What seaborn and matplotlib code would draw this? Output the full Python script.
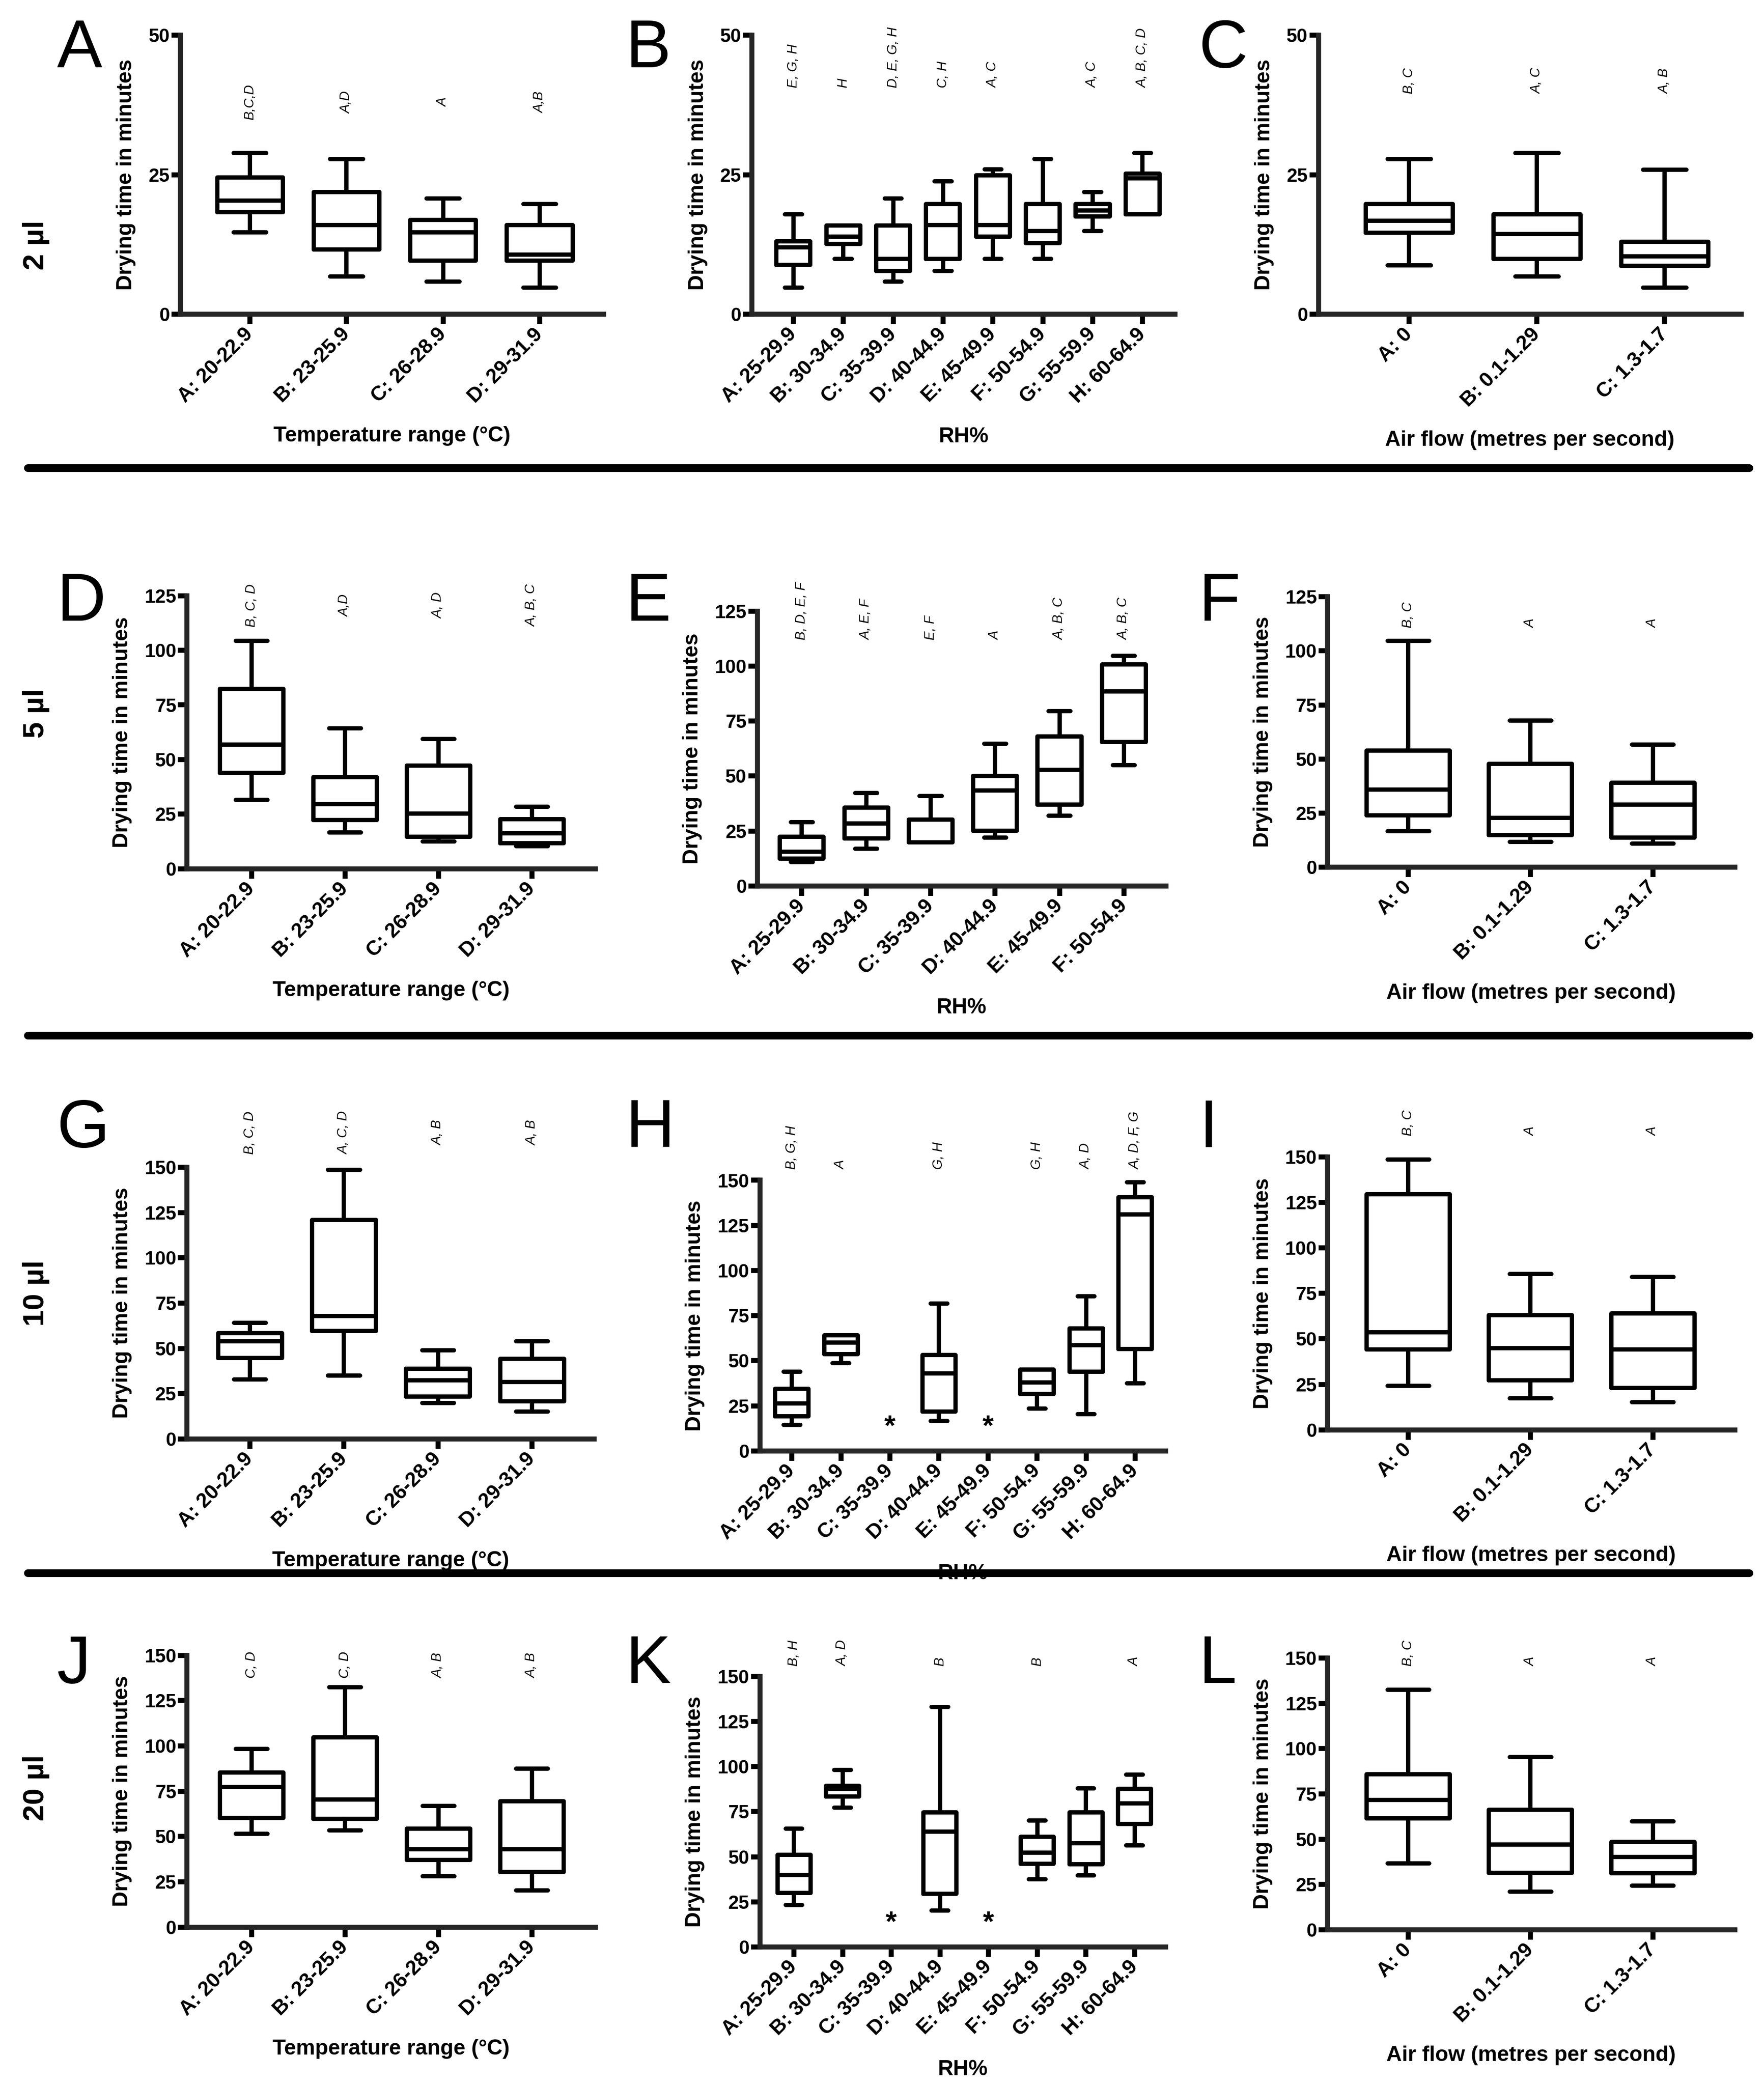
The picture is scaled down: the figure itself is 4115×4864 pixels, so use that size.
import matplotlib
matplotlib.use("Agg")
import matplotlib.pyplot as plt
from matplotlib.lines import Line2D
import pandas as pd
import seaborn as sns

# category labels
temp_cats = ["A: 20-22.9", "B: 23-25.9", "C: 26-28.9", "D: 29-31.9"]
rh_cats = ["A: 25-29.9", "B: 30-34.9", "C: 35-39.9", "D: 40-44.9",
           "E: 45-49.9", "F: 50-54.9", "G: 55-59.9", "H: 60-64.9"]
rh_cats_5ul = rh_cats[:6]
air_cats = ["A: 0", "B: 0.1-1.29", "C: 1.3-1.7"]

# box summaries: [min, Q1, median, Q3, max] (minutes)
# None = no data for that range (marked with *)
temp_2ul = [[14.7, 18.3, 20.4, 24.5, 28.9], [6.8, 11.6, 16.0, 21.9, 27.8],
            [5.9, 9.6, 14.7, 16.9, 20.8], [4.8, 9.6, 10.7, 16.0, 19.8]]
rh_2ul = [[4.8, 8.9, 12.0, 13.1, 17.9], [9.9, 12.6, 13.9, 15.9, 15.9],
          [5.9, 7.8, 9.9, 15.9, 20.8], [7.8, 9.9, 16.0, 19.8, 23.8],
          [9.9, 13.9, 16.0, 24.9, 26.0], [9.9, 12.8, 14.9, 19.8, 27.8],
          [14.9, 17.5, 18.6, 19.8, 21.9], [17.9, 17.9, 24.4, 25.2, 28.9]]
air_2ul = [[8.8, 14.6, 16.8, 19.8, 27.8], [6.8, 9.9, 14.4, 17.9, 28.9],
           [4.8, 8.7, 10.4, 13.0, 25.9]]

temp_5ul = [[31.5, 44.0, 56.8, 82.4, 104.3], [16.6, 22.4, 29.6, 41.9, 64.3],
            [12.6, 14.7, 25.3, 47.3, 59.4], [10.4, 11.8, 16.3, 22.7, 28.5]]
rh_5ul = [[10.8, 12.5, 15.5, 22.3, 29.0], [17.0, 21.6, 28.4, 35.6, 42.3],
          [19.8, 19.8, 19.8, 30.2, 41.0], [22.0, 25.2, 43.5, 50.1, 64.8],
          [32.0, 37.0, 52.8, 68.0, 79.6], [55.0, 65.5, 88.6, 100.8, 104.7]]
air_5ul = [[16.8, 24.0, 36.0, 54.0, 104.7], [11.7, 14.9, 22.9, 47.8, 67.8],
           [10.9, 13.8, 29.0, 39.1, 56.8]]

temp_10ul = [[33.0, 44.7, 54.0, 58.4, 64.0], [35.0, 59.7, 67.8, 120.8, 148.6],
             [20.0, 23.5, 32.5, 38.9, 49.0], [15.2, 20.8, 31.5, 44.3, 54.0]]
rh_10ul = [[14.5, 19.1, 26.4, 34.4, 44.0], [48.7, 53.6, 60.0, 64.0, 64.0],
           None, [16.7, 21.8, 43.0, 53.3, 81.8], None,
           [23.6, 31.5, 38.0, 45.0, 45.0], [20.5, 44.0, 58.7, 68.0, 85.8],
           [37.6, 56.4, 131.0, 140.5, 149.0]]
air_10ul = [[24.2, 44.1, 53.6, 129.4, 148.4], [17.3, 27.3, 45.0, 63.1, 85.6],
            [15.2, 23.0, 44.1, 64.0, 83.9]]

temp_20ul = [[51.4, 60.2, 77.4, 85.3, 98.4], [53.5, 59.8, 70.4, 104.7, 132.5],
             [28.2, 37.0, 43.0, 54.4, 66.8], [20.4, 30.4, 43.0, 69.5, 87.4]]
rh_20ul = [[23.2, 30.0, 40.0, 51.0, 65.5], [77.1, 83.3, 87.7, 89.4, 98.2],
           None, [20.2, 29.4, 63.9, 74.5, 133.0], None,
           [37.5, 46.0, 52.3, 61.0, 70.0], [39.6, 45.8, 57.6, 74.5, 88.0],
           [56.3, 68.1, 79.6, 87.7, 95.6]]
air_20ul = [[36.8, 61.6, 71.8, 85.8, 132.5], [21.0, 31.5, 47.0, 66.3, 95.4],
            [24.3, 31.3, 40.3, 48.5, 59.9]]

# significance letters above the boxes
sig_temp_2ul = ["B,C,D", "A,D", "A", "A,B"]
sig_rh_2ul = ["E, G, H", "H", "D, E, G, H", "C, H", "A, C", "", "A, C", "A, B, C, D"]
sig_air_2ul = ["B, C", "A, C", "A, B"]
sig_temp_5ul = ["B, C, D", "A,D", "A, D", "A, B, C"]
sig_rh_5ul = ["B, D, E, F", "A, E, F", "E, F", "A", "A, B, C", "A, B, C"]
sig_air_5ul = ["B, C", "A", "A"]
sig_temp_10ul = ["B, C, D", "A, C, D", "A, B", "A, B"]
sig_rh_10ul = ["B, G, H", "A", "", "G, H", "", "G, H", "A, D", "A, D, F, G"]
sig_air_10ul = ["B, C", "A", "A"]
sig_temp_20ul = ["C, D", "C, D", "A, B", "A, B"]
sig_rh_20ul = ["B, H", "A, D", "", "B", "", "B", "", "A"]
sig_air_20ul = ["B, C", "A", "A"]

sns.set_style("ticks")
plt.rcParams["font.family"] = ["Liberation Sans", "DejaVu Sans"]
plt.rcParams["text.color"] = "black"
plt.rcParams["axes.labelcolor"] = "black"
plt.rcParams["xtick.color"] = "black"
plt.rcParams["ytick.color"] = "black"

fig = plt.figure(figsize=(13.7168, 16.2135), dpi=300)

LW = 2.4
SPINE = 2.8


def to_frame(cats, stats):
    rows = []
    for cat, s in zip(cats, stats):
        if s is not None:
            rows += [(cat, v) for v in s]
    return pd.DataFrame(rows, columns=["group", "minutes"])


def panel(rect, cats, stats, sig, sig_y, sig_va, ymax, xlabel, xlim):
    ax = fig.add_axes(rect)
    df = to_frame(cats, stats)
    sns.boxplot(data=df, x="group", y="minutes", order=cats, ax=ax,
                whis=(0, 100), width=0.68, fill=False, color="black",
                linewidth=LW, showfliers=False,
                capprops=dict(solid_capstyle="round"),
                whiskerprops=dict(solid_capstyle="butt"))
    ax.set_ylim(0, ymax)
    ax.set_yticks(range(0, ymax + 1, 25))
    ax.set_xlim(*xlim)
    sns.despine(ax=ax)
    for side in ["left", "bottom"]:
        ax.spines[side].set_linewidth(SPINE)
    ax.tick_params(axis="y", width=SPINE, length=5, pad=1, labelsize=10.7)
    ax.tick_params(axis="x", width=SPINE, length=5.5, pad=4)
    for lab in ax.get_yticklabels():
        lab.set_fontweight("bold")
    ax.set_xticks(range(len(cats)))
    ax.set_xticklabels(cats, rotation=45, ha="right", va="center",
                       rotation_mode="anchor", fontsize=11.5, fontweight="bold")
    ax.set_ylabel("Drying time in minutes", fontsize=12, fontweight="bold", labelpad=7)
    ax.set_xlabel(xlabel, fontsize=12, fontweight="bold", labelpad=11)
    for i, (s, txt) in enumerate(zip(stats, sig)):
        if txt:
            ax.text(i, sig_y, txt, rotation=90, ha="center", va=sig_va,
                    fontsize=7.5, fontstyle="italic", clip_on=False)
        if s is None:
            ax.text(i, 13, "*", ha="center", va="center", fontsize=16,
                    fontweight="bold")
    return ax


t_lab = "Temperature range (°C)"
rh_lab = "RH%"
air_lab = "Air flow (metres per second)"

# row 1: 2 ul
panel([0.1023, 0.8492, 0.2398, 0.1339], temp_cats, temp_2ul, sig_temp_2ul, 38, "center", 50, t_lab, (-0.72, 3.66))
panel([0.4263, 0.8492, 0.2398, 0.1339], rh_cats, rh_2ul, sig_rh_2ul, 40.6, "bottom", 50, rh_lab, (-0.83, 7.65))
panel([0.7474, 0.8492, 0.2398, 0.1339], air_cats, air_2ul, sig_air_2ul, 39.5, "bottom", 50, air_lab, (-0.71, 2.6))

# row 2: 5 ul
panel([0.1060, 0.5833, 0.2316, 0.1310], temp_cats, temp_5ul, sig_temp_5ul, 120.5, "center", 125, t_lab, (-0.69, 3.68))
panel([0.4293, 0.5751, 0.2316, 0.1317], rh_cats_5ul, rh_5ul, sig_rh_5ul, 112, "bottom", 125, rh_lab, (-0.69, 5.65))
panel([0.7526, 0.5840, 0.2308, 0.1298], air_cats, air_5ul, sig_air_5ul, 110.5, "bottom", 125, air_lab, (-0.66, 2.67))

# row 3: 10 ul
panel([0.1060, 0.3098, 0.2308, 0.1304], temp_cats, temp_10ul, sig_temp_10ul, 169, "center", 150, t_lab, (-0.67, 3.66))
panel([0.4308, 0.3041, 0.2300, 0.1298], rh_cats, rh_10ul, sig_rh_10ul, 156, "bottom", 150, rh_lab, (-0.65, 7.62))
panel([0.7526, 0.3142, 0.2308, 0.1310], air_cats, air_10ul, sig_air_10ul, 161.4, "bottom", 150, air_lab, (-0.66, 2.67))

# row 4: 20 ul
panel([0.1060, 0.0757, 0.2316, 0.1304], temp_cats, temp_20ul, sig_temp_20ul, 137.4, "bottom", 150, t_lab, (-0.69, 3.68))
panel([0.4308, 0.0662, 0.2300, 0.1298], rh_cats, rh_20ul, sig_rh_20ul, 155.6, "bottom", 150, rh_lab, (-0.7, 7.64))
panel([0.7526, 0.0744, 0.2308, 0.1304], air_cats, air_20ul, sig_air_20ul, 145.5, "bottom", 150, air_lab, (-0.66, 2.67))

# panel letters
letter_x = [0.0323, 0.3549, 0.6797]
letter_y = [0.9911, 0.7258, 0.4733, 0.2163]
for r, row_letters in enumerate(["ABC", "DEF", "GHI", "JKL"]):
    for c, ch in enumerate(row_letters):
        fig.text(letter_x[c], letter_y[r], ch, fontsize=38, ha="left", va="top")

# volume labels down the left side
for y, lab in zip([0.8823, 0.6578, 0.3798, 0.1425], ["2 µl", "5 µl", "10 µl", "20 µl"]):
    fig.text(0.0203, y, lab, rotation=90, ha="center", va="center",
             fontsize=16.5, fontweight="bold")

# thick separators between the rows
for y in [0.7754, 0.5032, 0.2455]:
    fig.add_artist(Line2D([0.0158, 0.9917], [y, y], transform=fig.transFigure,
                          color="black", linewidth=4.3, solid_capstyle="round"))

fig.savefig("out.png", dpi=300)
